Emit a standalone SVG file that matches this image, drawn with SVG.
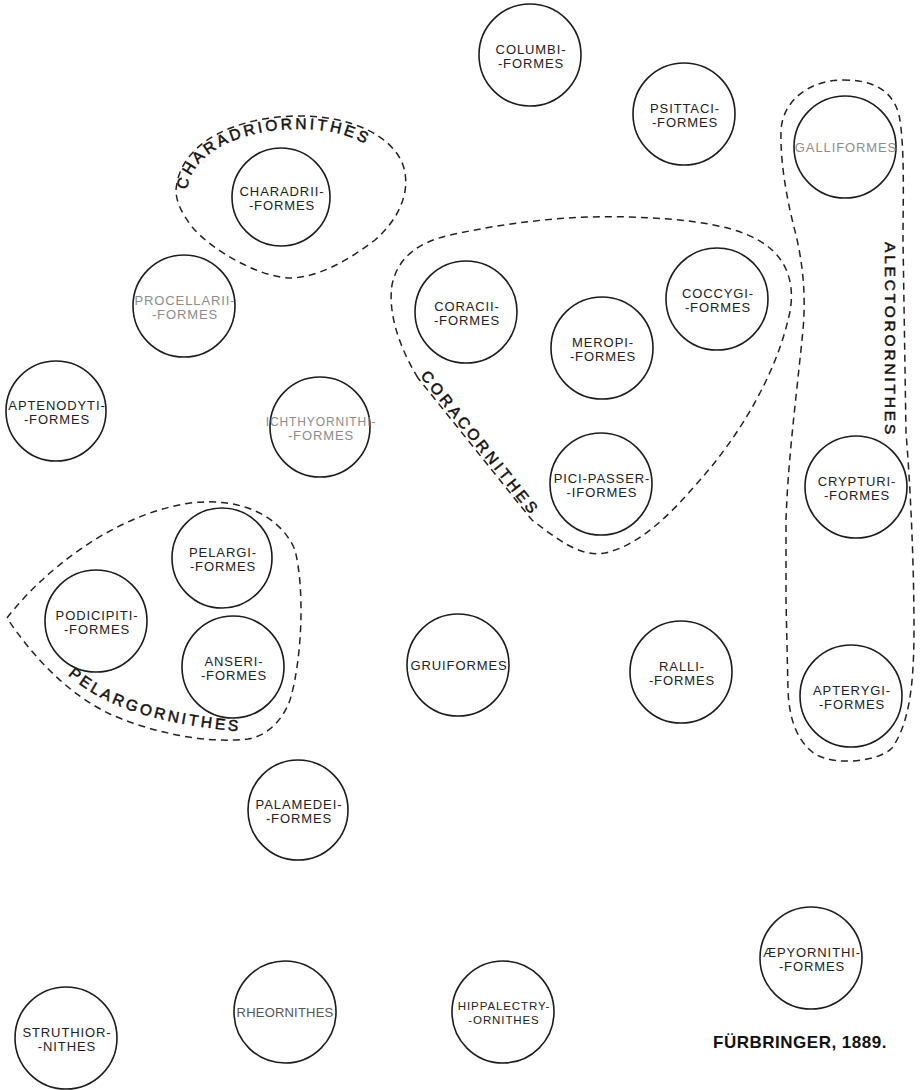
<svg xmlns="http://www.w3.org/2000/svg" width="920" height="1090" viewBox="0 0 920 1090">
<style>
.n circle{fill:none;stroke:#1c1c1c;stroke-width:1.6}
.n text{font-family:"Liberation Sans",Arial,sans-serif;font-size:13px;letter-spacing:0.9px;text-anchor:middle;fill:#222}
.faint text{fill:#8c8c8c}
.hull{fill:none;stroke:#222;stroke-width:1.5;stroke-dasharray:7 5}
.gl{font-family:"Liberation Sans",Arial,sans-serif;font-size:15.5px;letter-spacing:3px;fill:#111;stroke:#111;stroke-width:0.5}
.sig{font-family:"Liberation Sans",Arial,sans-serif;font-size:17px;font-weight:bold;letter-spacing:0.5px;text-anchor:middle;fill:#111}
</style>
<defs>
<path id="pCharadri" d="M187,190 C192,150 245,129 300,129 C342,129 376,143 396,170"/>
<path id="pPelarg" d="M68,675 C100,703 150,726 262,733"/>
</defs>
<rect width="920" height="1090" fill="#fff"/>

<g id="groups">
<path id="hull-charadriornithes" class="hull" d="M176,190 C180,140 240,116 300,116 C350,116 392,135 403,165 C412,192 398,220 375,240 C345,263 315,278 290,278 C258,277 212,250 193,228 C182,214 176,202 176,190 Z"/>
<path id="hull-coracornithes" class="hull" d="M418,378 C398,345 388,312 392,285 C398,256 420,242 450,235 C510,222 570,215 630,217 C690,219 745,225 772,250 C792,268 795,295 788,320 C775,375 740,435 700,480 C670,515 640,545 605,553 C580,558 556,538 532,520 Z"/>
<path id="hull-pelargornithes" class="hull" d="M7,618 C40,575 110,515 190,503 C240,497 280,515 295,550 C305,590 302,660 290,700 C282,722 266,736 248,739 C205,744 150,732 110,714 C70,695 35,660 7,618 Z"/>
<path id="hull-alectorornithes" class="hull" d="M843,80 C870,80 892,88 899,115 C905,145 903,200 903,240 L906,433 C910,480 914,560 914,630 C914,690 908,725 892,748 C878,762 835,766 815,754 C795,740 789,715 788,690 L786,600 L786,520 C788,460 796,400 803,330 C806,295 803,265 796,235 C788,205 780,165 781,130 C783,100 810,80 843,80 Z"/>
<text class="gl"><textPath href="#pCharadri">CHARADRIORNITHES</textPath></text>
<text class="gl" transform="translate(420,376) rotate(51.5)" style="letter-spacing:3.4px">CORACORNITHES</text>
<text class="gl"><textPath href="#pPelarg">PELARGORNITHES</textPath></text>
<text class="gl" transform="translate(885,242) rotate(90)" style="letter-spacing:2.8px">ALECTORORNITHES</text>
</g>

<g id="n-columbi" class="n"><circle cx="530" cy="55" r="51"/><text x="531" y="54">COLUMBI-</text><text x="531" y="68">-FORMES</text></g>
<g id="n-psittaci" class="n"><circle cx="684" cy="114" r="51"/><text x="685" y="113">PSITTACI-</text><text x="685" y="127">-FORMES</text></g>
<g id="n-galli" class="n faint"><circle cx="845" cy="147" r="51"/><text x="846" y="152">GALLIFORMES</text></g>
<g id="n-charadrii" class="n"><circle cx="281" cy="197" r="49"/><text x="282" y="196">CHARADRII-</text><text x="282" y="210">-FORMES</text></g>
<g id="n-procellarii" class="n faint"><circle cx="184" cy="306" r="51"/><text x="185" y="305">PROCELLARII-</text><text x="185" y="319">-FORMES</text></g>
<g id="n-coracii" class="n"><circle cx="466" cy="312" r="51"/><text x="467" y="311">CORACII-</text><text x="467" y="325">-FORMES</text></g>
<g id="n-meropi" class="n"><circle cx="602" cy="348" r="51"/><text x="603" y="347">MEROPI-</text><text x="603" y="361">-FORMES</text></g>
<g id="n-coccygi" class="n"><circle cx="717" cy="299" r="51"/><text x="718" y="298">COCCYGI-</text><text x="718" y="312">-FORMES</text></g>
<g id="n-aptenodyti" class="n"><circle cx="56" cy="411" r="50"/><text x="57" y="410">APTENODYTI-</text><text x="57" y="424">-FORMES</text></g>
<g id="n-ichthyornithi" class="n faint"><circle cx="320" cy="427" r="50"/><text x="321" y="426" style="font-size:12px">ICHTHYORNITHI-</text><text x="321" y="440">-FORMES</text></g>
<g id="n-picipasser" class="n"><circle cx="601" cy="484" r="51"/><text x="602" y="483">PICI-PASSER-</text><text x="602" y="497">-IFORMES</text></g>
<g id="n-crypturi" class="n"><circle cx="856" cy="487" r="51"/><text x="857" y="486">CRYPTURI-</text><text x="857" y="500">-FORMES</text></g>
<g id="n-pelargi" class="n"><circle cx="222" cy="558" r="50"/><text x="223" y="557">PELARGI-</text><text x="223" y="571">-FORMES</text></g>
<g id="n-podicipiti" class="n"><circle cx="96" cy="621" r="51"/><text x="97" y="620">PODICIPITI-</text><text x="97" y="634">-FORMES</text></g>
<g id="n-anseri" class="n"><circle cx="233" cy="667" r="51"/><text x="234" y="666">ANSERI-</text><text x="234" y="680">-FORMES</text></g>
<g id="n-grui" class="n"><circle cx="458" cy="665" r="51"/><text x="459" y="670">GRUIFORMES</text></g>
<g id="n-ralli" class="n"><circle cx="681" cy="672" r="51"/><text x="682" y="671">RALLI-</text><text x="682" y="685">-FORMES</text></g>
<g id="n-apterygi" class="n"><circle cx="851" cy="696" r="51"/><text x="852" y="695">APTERYGI-</text><text x="852" y="709">-FORMES</text></g>
<g id="n-palamedei" class="n"><circle cx="298" cy="810" r="50"/><text x="299" y="809">PALAMEDEI-</text><text x="299" y="823">-FORMES</text></g>
<g id="n-aepyornithi" class="n"><circle cx="811" cy="958" r="51"/><text x="812" y="957">ÆPYORNITHI-</text><text x="812" y="971">-FORMES</text></g>
<g id="n-rheornithes" class="n"><circle cx="285" cy="1012" r="51"/><text x="285" y="1017" style="fill:#555;letter-spacing:0.2px">RHEORNITHES</text></g>
<g id="n-hippalectry" class="n"><circle cx="503" cy="1012" r="51"/><text x="504" y="1010" style="font-size:11.5px">HIPPALECTRY-</text><text x="504" y="1024" style="font-size:11.5px">-ORNITHES</text></g>
<g id="n-struthior" class="n"><circle cx="66" cy="1038" r="51"/><text x="67" y="1037">STRUTHIOR-</text><text x="67" y="1051">-NITHES</text></g>

<text class="sig" x="800" y="1048">FÜRBRINGER, 1889.</text>
</svg>
